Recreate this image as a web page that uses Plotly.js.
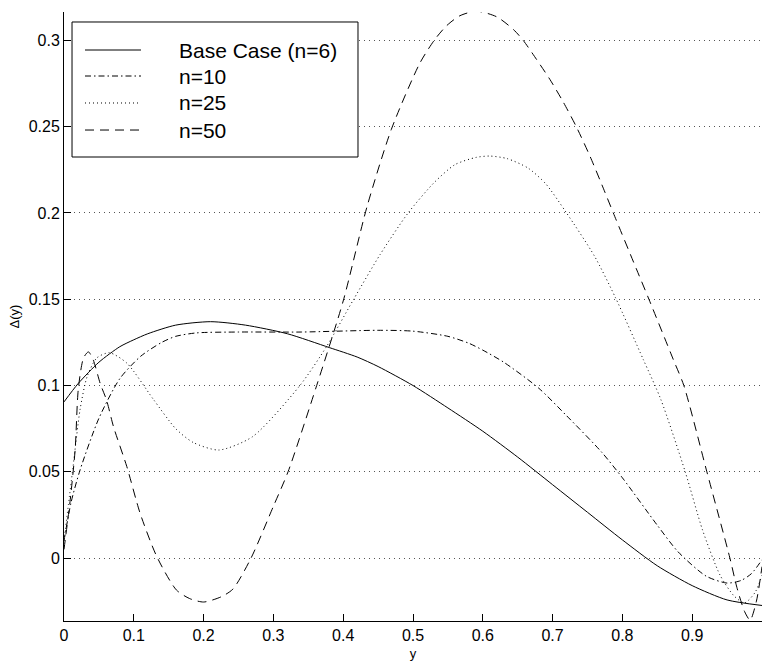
<!DOCTYPE html>
<html>
<head>
<meta charset="utf-8">
<script src="https://cdn.plot.ly/plotly-3.0.1.min.js"></script>
<style>html,body{margin:0;padding:0;background:#fff;}#chart{width:764px;height:662px;}</style>
</head>
<body>
<div id="chart"></div>
<script>
// Series names
const seriesNames = ["Base Case (n=6)", "n=10", "n=25", "n=50"];

// Base case (n=6)
const xBase = [0, 0.02, 0.05, 0.08, 0.1, 0.12, 0.16, 0.21, 0.26, 0.32, 0.38, 0.42, 0.45, 0.5, 0.55, 0.6, 0.65, 0.7, 0.75, 0.8, 0.85, 0.9, 0.95, 1.0];
const yBase = [0.0905, 0.101, 0.1135, 0.1225, 0.1265, 0.130, 0.135, 0.137, 0.135, 0.130, 0.122, 0.1165, 0.111, 0.100, 0.087, 0.0735, 0.0585, 0.0425, 0.0265, 0.0105, -0.0045, -0.016, -0.0243, -0.0275];

// n=10
const x10 = [0, 0.01, 0.023, 0.05, 0.08, 0.11, 0.14, 0.16, 0.19, 0.25, 0.34, 0.45, 0.5, 0.55, 0.58, 0.6, 0.63, 0.68, 0.72, 0.77, 0.8, 0.85, 0.88, 0.92, 0.95, 0.97, 0.985, 1.0];
const y10 = [0.01, 0.032, 0.051, 0.081, 0.104, 0.117, 0.125, 0.1285, 0.1305, 0.131, 0.131, 0.132, 0.1315, 0.1285, 0.1245, 0.1205, 0.1135, 0.0985, 0.0825, 0.0615, 0.0465, 0.019, 0.0035, -0.0105, -0.0145, -0.013, -0.009, -0.001];

// n=25
const x25 = [0, 0.013, 0.023, 0.033, 0.047, 0.065, 0.09, 0.128, 0.16, 0.185, 0.222, 0.27, 0.338, 0.376, 0.415, 0.453, 0.493, 0.53, 0.56, 0.59, 0.61, 0.635, 0.665, 0.69, 0.72, 0.76, 0.79, 0.83, 0.855, 0.89, 0.915, 0.94, 0.96, 0.975, 0.99, 1.0];
const y25 = [0.01, 0.053, 0.086, 0.105, 0.116, 0.119, 0.113, 0.092, 0.075, 0.067, 0.0626, 0.0703, 0.100, 0.1225, 0.150, 0.176, 0.200, 0.2175, 0.228, 0.2322, 0.233, 0.2315, 0.226, 0.217, 0.200, 0.175, 0.151, 0.115, 0.092, 0.050, 0.016, -0.010, -0.022, -0.026, -0.020, -0.010];

// n=50
const x50 = [0, 0.009, 0.016, 0.0205, 0.028, 0.035, 0.042, 0.052, 0.061, 0.071, 0.09, 0.109, 0.133, 0.161, 0.18, 0.2, 0.225, 0.242, 0.268, 0.3, 0.321, 0.362, 0.40, 0.434, 0.469, 0.51, 0.5315, 0.548, 0.567, 0.591, 0.62, 0.644, 0.658, 0.677, 0.696, 0.715, 0.734, 0.754, 0.773, 0.787, 0.82, 0.838, 0.873, 0.888, 0.921, 0.954, 0.964, 0.975, 0.983, 0.992, 1.0];
const y50 = [0.005, 0.034, 0.063, 0.098, 0.116, 0.1195, 0.1147, 0.101, 0.0915, 0.076, 0.053, 0.026, 0.0008, -0.0185, -0.0235, -0.0255, -0.0225, -0.018, 0.0, 0.03, 0.05, 0.10, 0.149, 0.2035, 0.2485, 0.287, 0.3007, 0.3085, 0.3143, 0.317, 0.3137, 0.3063, 0.30, 0.289, 0.2775, 0.2645, 0.25, 0.2325, 0.214, 0.2, 0.1676, 0.15, 0.115, 0.10, 0.05, 0.0, -0.017, -0.031, -0.036, -0.025, -0.005];

const xs = [xBase, x10, x25, x50];
const ys = [yBase, y10, y25, y50];
const dashes = ["solid", "6px,3px,1.5px,3px", "1px,3px", "9px,6px"];

const traces = xs.map((x, i) => ({
  x: x, y: ys[i], name: seriesNames[i], type: "scatter", mode: "lines",
  line: {color: "#000", width: 1, dash: dashes[i], shape: "spline", smoothing: 0.7},
  hoverinfo: "skip", showlegend: false
}));

// Hand-drawn legend box (paper coordinates)
const legBox = {x0: 0.0115, x1: 0.4212, y0: 0.7619, y1: 0.9836};
const legRows = [0.9376, 0.8949, 0.8506, 0.8062];
const legLineX = [0.0301, 0.1103];
const legTextX = 0.1619;

const shapes = [{
  type: "rect", xref: "paper", yref: "paper", layer: "above",
  x0: legBox.x0, x1: legBox.x1, y0: legBox.y0, y1: legBox.y1,
  fillcolor: "#fff", line: {color: "#000", width: 1}
}];
const annotations = [];
seriesNames.forEach((nm, i) => {
  shapes.push({
    type: "line", xref: "paper", yref: "paper", layer: "above",
    x0: legLineX[0], x1: legLineX[1], y0: legRows[i], y1: legRows[i],
    line: {color: "#000", width: 1, dash: dashes[i]}
  });
  annotations.push({
    xref: "paper", yref: "paper", x: legTextX, y: legRows[i],
    xanchor: "left", yanchor: "middle", showarrow: false, text: nm,
    font: {size: 21, color: "#000", family: "Liberation Sans, Arial, sans-serif"}
  });
});

const layout = {
  width: 764, height: 662,
  margin: {l: 64, r: 2, t: 12, b: 41},
  paper_bgcolor: "#fff", plot_bgcolor: "#fff",
  font: {family: "Liberation Sans, Arial, sans-serif", color: "#000", size: 16},
  showlegend: false,
  shapes: shapes,
  annotations: annotations,
  xaxis: {
    range: [0, 1], dtick: 0.1, tick0: 0,
    showline: true, linecolor: "#000", linewidth: 1, mirror: false,
    ticks: "inside", ticklen: 7, tickcolor: "#000", tickwidth: 1,
    showgrid: false, zeroline: false,
    tickfont: {size: 16},
    title: {text: "y", font: {size: 13}, standoff: 5}
  },
  yaxis: {
    range: [-0.0365, 0.3165], dtick: 0.05, tick0: 0,
    showline: true, linecolor: "#000", linewidth: 1, mirror: false,
    ticks: "inside", ticklen: 7, tickcolor: "#000", tickwidth: 1,
    showgrid: true, gridcolor: "#555", gridwidth: 1, griddash: "1px,4px",
    zeroline: false,
    tickfont: {size: 16},
    title: {text: "Δ(y)", font: {size: 13}, standoff: 6}
  }
};

Plotly.newPlot("chart", traces, layout, {displayModeBar: false, staticPlot: true});
</script>
</body>
</html>
